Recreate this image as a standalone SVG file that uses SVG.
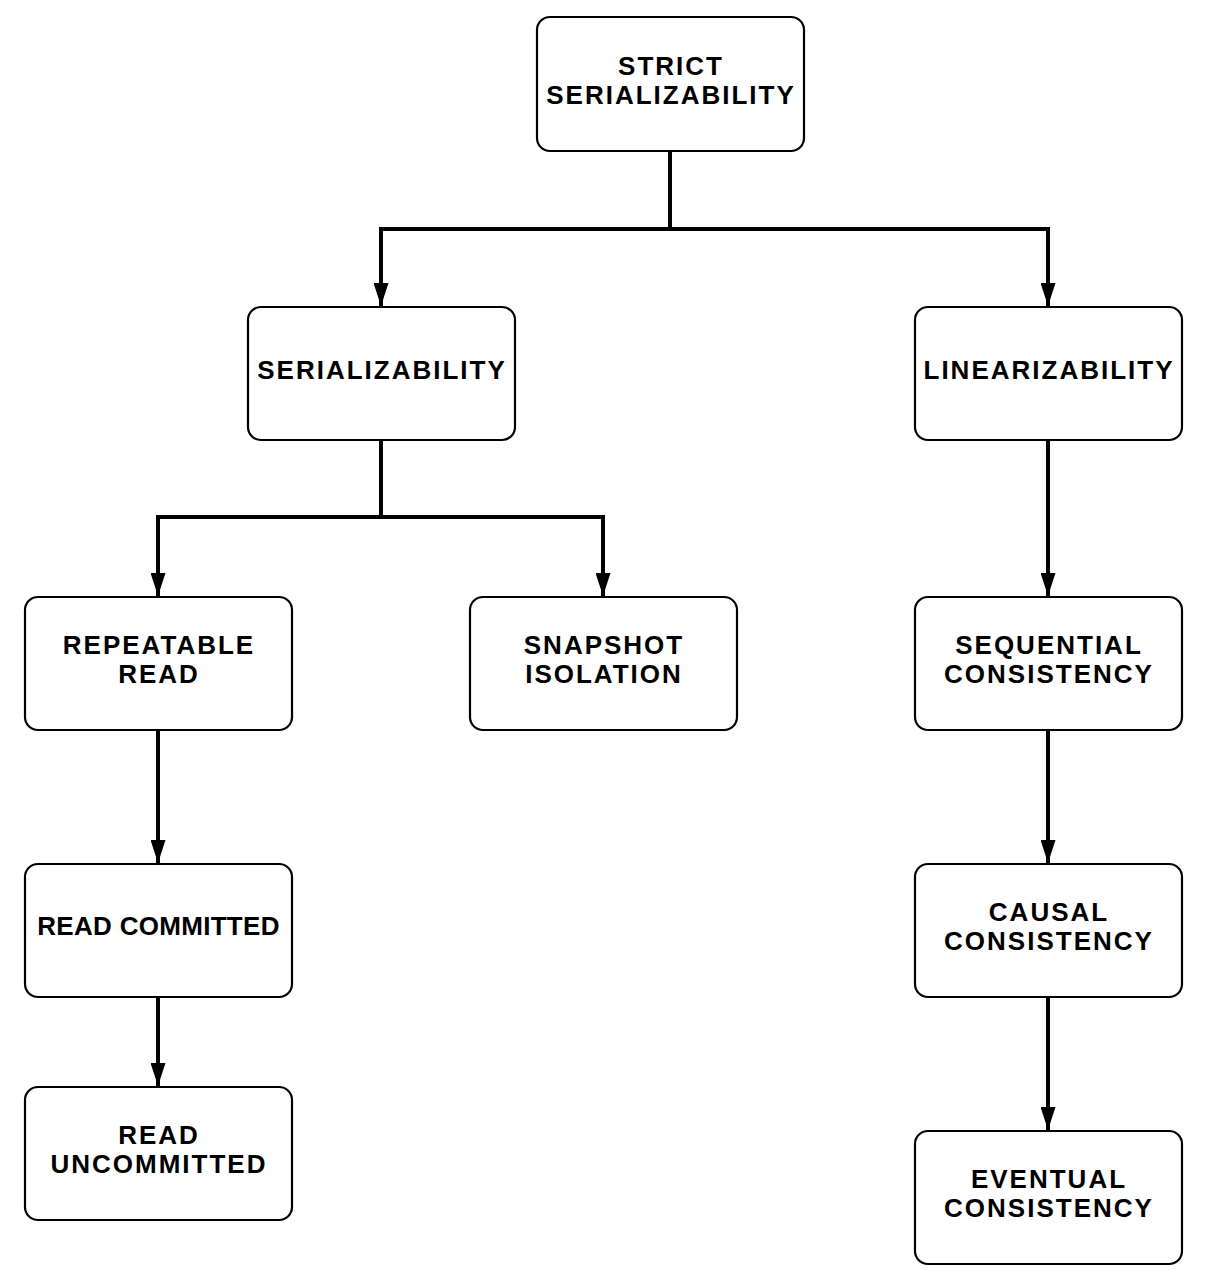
<svg xmlns="http://www.w3.org/2000/svg" width="1212" height="1278" viewBox="0 0 1212 1278">
<style>
.box{fill:#fff;stroke:#000;stroke-width:2.2}
.lbl{font-family:"Liberation Sans",Arial,sans-serif;font-size:26px;font-weight:bold;letter-spacing:2px;text-anchor:middle;fill:#000}
.tight{letter-spacing:0.3px}
.edge{fill:none;stroke:#000;stroke-width:4}
</style>
<defs>
<marker id="arr" viewBox="0 0 23 15" refX="23" refY="7.5" markerWidth="23" markerHeight="15" markerUnits="userSpaceOnUse" orient="auto">
<path d="M0,0 L23,7.5 L0,15 Z" fill="#000"/>
</marker>
</defs>
<rect width="1212" height="1278" fill="#fff"/>
<g id="connectors">
<path class="edge" d="M670,151 V229 H381 V306" marker-end="url(#arr)"/>
<path class="edge" d="M670,229 H1048 V306" marker-end="url(#arr)"/>
<path class="edge" d="M381,440 V517 H158 V596" marker-end="url(#arr)"/>
<path class="edge" d="M381,517 H603 V596" marker-end="url(#arr)"/>
<path class="edge" d="M1048,440 V596" marker-end="url(#arr)"/>
<path class="edge" d="M158,730 V863" marker-end="url(#arr)"/>
<path class="edge" d="M1048,730 V863" marker-end="url(#arr)"/>
<path class="edge" d="M158,997 V1086" marker-end="url(#arr)"/>
<path class="edge" d="M1048,997 V1130" marker-end="url(#arr)"/>
</g>
<g id="strict"><rect class="box" x="537" y="17" width="267" height="134" rx="13"/><text class="lbl" x="671" y="75">STRICT</text><text class="lbl" x="671" y="104">SERIALIZABILITY</text></g>
<g id="serializability"><rect class="box" x="248" y="307" width="267" height="133" rx="13"/><text class="lbl" x="382" y="379">SERIALIZABILITY</text></g>
<g id="linearizability"><rect class="box" x="915" y="307" width="267" height="133" rx="13"/><text class="lbl" x="1049" y="379">LINEARIZABILITY</text></g>
<g id="repeatable-read"><rect class="box" x="25" y="597" width="267" height="133" rx="13"/><text class="lbl" x="159" y="654">REPEATABLE</text><text class="lbl" x="159" y="683">READ</text></g>
<g id="snapshot-isolation"><rect class="box" x="470" y="597" width="267" height="133" rx="13"/><text class="lbl" x="604" y="654">SNAPSHOT</text><text class="lbl" x="604" y="683">ISOLATION</text></g>
<g id="sequential-consistency"><rect class="box" x="915" y="597" width="267" height="133" rx="13"/><text class="lbl" x="1049" y="654">SEQUENTIAL</text><text class="lbl" x="1049" y="683">CONSISTENCY</text></g>
<g id="read-committed"><rect class="box" x="25" y="864" width="267" height="133" rx="13"/><text class="lbl tight" x="158.5" y="935">READ COMMITTED</text></g>
<g id="causal-consistency"><rect class="box" x="915" y="864" width="267" height="133" rx="13"/><text class="lbl" x="1049" y="921">CAUSAL</text><text class="lbl" x="1049" y="950">CONSISTENCY</text></g>
<g id="read-uncommitted"><rect class="box" x="25" y="1087" width="267" height="133" rx="13"/><text class="lbl" x="159" y="1144">READ</text><text class="lbl" x="159" y="1173">UNCOMMITTED</text></g>
<g id="eventual-consistency"><rect class="box" x="915" y="1131" width="267" height="133" rx="13"/><text class="lbl" x="1049" y="1188">EVENTUAL</text><text class="lbl" x="1049" y="1217">CONSISTENCY</text></g>
</svg>
